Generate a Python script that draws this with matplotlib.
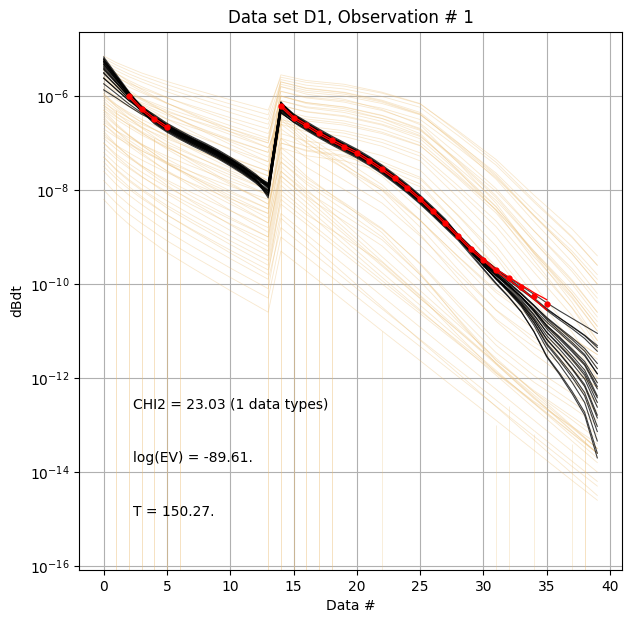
import numpy as np
import matplotlib
matplotlib.use('Agg')
import matplotlib.pyplot as plt
from matplotlib.ticker import NullLocator

nan = np.nan

# data number (gate index)
data_no = np.arange(40)

# observed data, log10(dBdt); nan where not observed
obs_log = [nan, nan, -6.00, -6.28, -6.49, -6.67, nan, nan, nan, nan,
           nan, nan, nan, nan, -6.21, -6.46, -6.62, -6.79, -6.94, -7.08,
           -7.21, -7.38, -7.56, -7.75, -7.96, -8.19, -8.45, -8.71, -8.98, -9.25,
           -9.48, -9.71, -9.88, -10.06, -10.25, -10.43, nan, nan, nan, nan]
# relative std of the observed data
obs_std = [.05, .05, .05, .05, .05, .05, .05, .05, .05, .05,
           .05, .05, .05, .05, .05, .05, .05, .05, .05, .05,
           .05, .05, .05, .05, .05, .05, .05, .05, .05, .05,
           .05, .05, .07, .10, .16, .25, .05, .05, .05, .05]

y_ticks = [1e-16, 1e-14, 1e-12, 1e-10, 1e-8, 1e-6]

# prior realisations, log10(dBdt) at these data numbers
prior_x = [0, 1, 2, 3, 5, 7, 10, 13, 14, 16, 19, 22, 25, 28, 31, 34, 37, 39]
prior_log = [
    [-5.15, -5.29, -5.40, -5.51, -5.69, -5.85, -6.08, -6.30, -5.60, -5.71, -5.79, -5.94, -6.17, -6.74, -7.35, -8.11, -8.83, -9.40],
    [-5.30, -5.46, -5.59, -5.70, -5.91, -6.09, -6.35, -6.60, -5.80, -5.92, -6.00, -6.16, -6.40, -7.00, -7.64, -8.44, -9.20, -9.80],
    [-5.50, -5.67, -5.81, -5.93, -6.16, -6.35, -6.63, -6.90, -5.70, -5.84, -5.93, -6.11, -6.38, -7.05, -7.77, -8.67, -9.53, -10.20],
    [-5.40, -5.59, -5.75, -5.90, -6.15, -6.38, -6.70, -7.00, -6.00, -6.14, -6.23, -6.41, -6.69, -7.38, -8.12, -9.04, -9.91, -10.60],
    [-5.70, -5.88, -6.03, -6.17, -6.41, -6.62, -6.92, -7.20, -6.10, -6.25, -6.35, -6.54, -6.84, -7.57, -8.35, -9.33, -10.27, -11.00],
    [-5.60, -5.83, -6.02, -6.19, -6.49, -6.76, -7.14, -7.50, -6.30, -6.72, -7.20, -7.71, -8.42, -9.23, -10.02, -10.62, -11.14, -11.50],
    [-5.90, -6.08, -6.23, -6.37, -6.61, -6.82, -7.12, -7.40, -5.90, -6.04, -6.13, -6.31, -6.58, -7.25, -7.97, -8.87, -9.73, -10.40],
    [-6.00, -6.22, -6.40, -6.56, -6.85, -7.10, -7.46, -7.80, -6.60, -6.76, -6.86, -7.07, -7.38, -8.16, -8.99, -10.03, -11.02, -11.80],
    [-6.20, -6.43, -6.62, -6.79, -7.09, -7.36, -7.74, -8.10, -6.50, -6.98, -7.54, -8.13, -8.94, -9.88, -10.79, -11.49, -12.08, -12.50],
    [-5.80, -6.03, -6.22, -6.39, -6.69, -6.96, -7.34, -7.70, -5.80, -5.96, -6.07, -6.29, -6.61, -7.42, -8.28, -9.36, -10.39, -11.20],
    [-6.40, -6.64, -6.84, -7.02, -7.34, -7.62, -8.02, -8.40, -7.00, -7.17, -7.29, -7.52, -7.87, -8.74, -9.67, -10.83, -11.93, -12.80],
    [-6.60, -6.85, -7.06, -7.25, -7.59, -7.88, -8.30, -8.70, -7.20, -7.70, -8.30, -8.91, -9.76, -10.75, -11.70, -12.44, -13.06, -13.50],
    [-6.30, -6.50, -6.67, -6.83, -7.10, -7.34, -7.68, -8.00, -6.20, -6.34, -6.44, -6.62, -6.91, -7.61, -8.36, -9.30, -10.20, -10.90],
    [-6.80, -7.06, -7.28, -7.48, -7.83, -8.14, -8.58, -9.00, -7.60, -8.08, -8.80, -9.52, -10.24, -10.96, -11.68, -12.40, -13.12, -13.60],
    [-7.00, -7.28, -7.51, -7.71, -8.08, -8.40, -8.86, -9.30, -7.90, -8.36, -9.06, -9.76, -10.45, -11.15, -11.84, -12.54, -13.24, -13.70],
    [-6.50, -6.74, -6.94, -7.12, -7.44, -7.72, -8.12, -8.50, -6.80, -6.96, -7.06, -7.27, -7.58, -8.36, -9.19, -10.23, -11.22, -12.00],
    [-7.30, -7.58, -7.81, -8.01, -8.38, -8.70, -9.16, -9.60, -8.30, -8.72, -9.36, -10.00, -10.63, -11.27, -11.90, -12.54, -13.18, -13.60],
    [-7.60, -7.88, -8.11, -8.31, -8.68, -9.00, -9.46, -9.90, -8.80, -9.23, -9.88, -10.53, -11.18, -11.82, -12.47, -13.12, -13.77, -14.20],
    [-8.20, -8.49, -8.73, -8.94, -9.33, -9.66, -10.14, -10.60, -9.30, -9.72, -10.36, -11.00, -11.63, -12.27, -12.90, -13.54, -14.18, -14.60],
    [-5.45, -5.60, -5.73, -5.84, -6.04, -6.21, -6.46, -6.70, -5.90, -6.02, -6.10, -6.26, -6.50, -7.10, -7.74, -8.54, -9.30, -9.90],
    [-6.10, -6.36, -6.58, -6.78, -7.13, -7.44, -7.88, -8.30, -7.10, -7.51, -7.99, -8.48, -9.18, -9.98, -10.75, -11.34, -11.84, -12.20],
    [-6.90, -7.13, -7.32, -7.49, -7.79, -8.06, -8.44, -8.80, -7.40, -7.87, -8.43, -9.00, -9.80, -10.73, -11.62, -12.30, -12.89, -13.30],
    [-5.60, -5.78, -5.93, -6.07, -6.31, -6.52, -6.82, -7.10, -6.40, -6.53, -6.62, -6.80, -7.06, -7.72, -8.42, -9.30, -10.14, -10.80],
    [-7.10, -7.34, -7.54, -7.72, -8.04, -8.32, -8.72, -9.10, -7.70, -8.17, -8.88, -9.59, -10.30, -11.00, -11.71, -12.42, -13.13, -13.60],
    [-6.00, -6.19, -6.35, -6.50, -6.75, -6.98, -7.30, -7.60, -6.00, -6.16, -6.27, -6.48, -6.80, -7.59, -8.44, -9.50, -10.51, -11.30],
    [-7.80, -8.08, -8.31, -8.51, -8.88, -9.20, -9.66, -10.10, -8.60, -9.07, -9.78, -10.49, -11.20, -11.90, -12.61, -13.32, -14.03, -14.50],
    [-6.70, -6.88, -7.03, -7.17, -7.41, -7.62, -7.92, -8.20, -6.90, -7.07, -7.18, -7.40, -7.73, -8.55, -9.43, -10.53, -11.58, -12.40],
    [-5.25, -5.40, -5.53, -5.64, -5.84, -6.01, -6.26, -6.50, -5.70, -5.83, -5.92, -6.09, -6.35, -6.99, -7.68, -8.54, -9.36, -10.00],
    [-7.40, -7.69, -7.93, -8.14, -8.53, -8.86, -9.34, -9.80, -8.10, -8.52, -9.02, -9.54, -10.26, -11.09, -11.89, -12.50, -13.03, -13.40],
    [-6.25, -6.45, -6.61, -6.76, -7.03, -7.26, -7.59, -7.90, -6.60, -7.00, -7.47, -7.96, -8.64, -9.42, -10.18, -10.76, -11.25, -11.60],
    [-5.35, -5.52, -5.67, -5.80, -6.03, -6.24, -6.53, -6.80, -6.10, -6.23, -6.31, -6.48, -6.73, -7.36, -8.03, -8.87, -9.67, -10.30],
    [-5.55, -5.76, -5.94, -6.09, -6.37, -6.62, -6.97, -7.30, -6.30, -6.44, -6.53, -6.71, -6.99, -7.68, -8.42, -9.34, -10.21, -10.90],
    [-5.75, -5.90, -6.03, -6.14, -6.34, -6.51, -6.76, -7.00, -5.75, -5.88, -5.96, -6.13, -6.39, -7.03, -7.71, -8.56, -9.36, -10.00],
    [-5.95, -6.18, -6.38, -6.56, -6.87, -7.14, -7.53, -7.90, -6.70, -7.08, -7.54, -8.00, -8.65, -9.41, -10.13, -10.69, -11.16, -11.50],
    [-6.15, -6.32, -6.47, -6.60, -6.83, -7.03, -7.32, -7.60, -6.35, -6.49, -6.58, -6.77, -7.05, -7.75, -8.49, -9.42, -10.30, -11.00],
    [-5.50, -5.78, -6.01, -6.21, -6.58, -6.90, -7.36, -7.80, -6.90, -7.31, -7.79, -8.28, -8.98, -9.78, -10.55, -11.14, -11.64, -12.00],
    [-6.35, -6.62, -6.85, -7.05, -7.41, -7.72, -8.17, -8.60, -7.30, -7.75, -8.27, -8.82, -9.58, -10.46, -11.30, -11.95, -12.51, -12.90],
    [-6.55, -6.74, -6.89, -7.03, -7.28, -7.50, -7.81, -8.10, -6.55, -6.70, -6.79, -6.99, -7.28, -8.01, -8.78, -9.75, -10.67, -11.40],
    [-6.75, -7.04, -7.29, -7.51, -7.90, -8.25, -8.74, -9.20, -7.80, -8.26, -8.94, -9.62, -10.31, -10.99, -11.68, -12.36, -13.04, -13.50],
    [-5.85, -6.01, -6.15, -6.27, -6.49, -6.67, -6.94, -7.20, -6.20, -6.33, -6.42, -6.60, -6.86, -7.52, -8.22, -9.10, -9.94, -10.60],
    [-7.20, -7.46, -7.68, -7.88, -8.23, -8.54, -8.98, -9.40, -8.00, -8.46, -9.16, -9.86, -10.55, -11.25, -11.94, -12.64, -13.34, -13.80],
    [-6.05, -6.28, -6.48, -6.65, -6.97, -7.24, -7.63, -8.00, -6.45, -6.91, -7.45, -8.01, -8.79, -9.69, -10.56, -11.23, -11.80, -12.20],
    [-5.65, -5.81, -5.94, -6.05, -6.26, -6.44, -6.70, -6.95, -5.65, -5.77, -5.85, -6.01, -6.24, -6.84, -7.47, -8.26, -9.01, -9.60],
    [-6.45, -6.74, -6.99, -7.21, -7.60, -7.94, -8.43, -8.90, -7.70, -8.14, -8.66, -9.19, -9.94, -10.80, -11.63, -12.27, -12.82, -13.20],
    [-7.50, -7.76, -7.98, -8.18, -8.53, -8.84, -9.28, -9.70, -8.50, -8.94, -9.60, -10.26, -10.92, -11.58, -12.24, -12.90, -13.56, -14.00],
    [-5.30, -5.52, -5.70, -5.86, -6.15, -6.40, -6.76, -7.10, -6.50, -6.64, -6.74, -6.92, -7.21, -7.91, -8.66, -9.60, -10.50, -11.20],
    [-6.85, -7.05, -7.21, -7.36, -7.63, -7.86, -8.19, -8.50, -7.10, -7.27, -7.38, -7.60, -7.93, -8.75, -9.63, -10.73, -11.78, -12.60],
    [-7.00, -7.24, -7.44, -7.62, -7.94, -8.22, -8.62, -9.00, -7.50, -7.98, -8.70, -9.42, -10.14, -10.86, -11.58, -12.30, -13.02, -13.50],
    [-6.20, -6.38, -6.53, -6.67, -6.91, -7.12, -7.42, -7.70, -6.00, -6.14, -6.24, -6.42, -6.71, -7.41, -8.16, -9.10, -10.00, -10.70],
    [-5.95, -6.23, -6.47, -6.68, -7.06, -7.38, -7.85, -8.30, -7.40, -7.82, -8.32, -8.84, -9.56, -10.39, -11.19, -11.80, -12.33, -12.70],
    [-8.00, -8.28, -8.51, -8.71, -9.08, -9.40, -9.86, -10.30, -9.00, -9.42, -10.06, -10.70, -11.33, -11.97, -12.60, -13.24, -13.88, -14.30],
    [-5.45, -5.68, -5.88, -6.05, -6.37, -6.64, -7.03, -7.40, -6.40, -6.84, -7.36, -7.89, -8.64, -9.50, -10.33, -10.97, -11.52, -11.90],
    [-6.60, -6.82, -7.00, -7.16, -7.45, -7.70, -8.06, -8.40, -7.00, -7.15, -7.26, -7.46, -7.77, -8.53, -9.35, -10.37, -11.34, -12.10],
    [-7.30, -7.56, -7.78, -7.98, -8.33, -8.64, -9.08, -9.50, -8.20, -8.63, -9.28, -9.93, -10.58, -11.22, -11.87, -12.52, -13.17, -13.60],
    [-5.20, -5.34, -5.46, -5.57, -5.76, -5.93, -6.17, -6.40, -5.55, -5.67, -5.75, -5.92, -6.16, -6.77, -7.41, -8.22, -8.99, -9.60],
    [-6.30, -6.59, -6.83, -7.04, -7.43, -7.76, -8.24, -8.70, -7.60, -8.03, -8.54, -9.06, -9.80, -10.65, -11.46, -12.09, -12.62, -13.00],
]

# prior realisations with non-positive values: data number, last positive level, count
drop_x = [1, 2, 3, 4, 5, 6, 13, 14, 15, 16, 17, 18, 22, 31, 32, 34, 37, 38]
drop_top = [-6.3, -6.6, -6.4, -6.9, -6.5, -7.0, -7.5, -6.2, -6.6, -6.8, -7.0, -7.3,
            -11.0, -13.0, -12.6, -13.2, -13.4, -13.3]
drop_n = [2, 2, 2, 2, 2, 2, 2, 2, 2, 2, 2, 2, 1, 1, 1, 1, 1, 2]

# posterior realisations, log10(dBdt) at all 40 data numbers
post_log = [
    [-5.20, -5.57, -5.93, -6.24, -6.46, -6.65, -6.80, -6.94, -7.07, -7.21, -7.37, -7.53, -7.72, -7.90,
     -6.18, -6.43, -6.61, -6.78, -6.93, -7.07, -7.21, -7.37, -7.55, -7.75, -7.96, -8.19, -8.44, -8.70,
     -8.96, -9.22, -9.46, -9.67, -9.86, -10.04, -10.22, -10.40, -10.57, -10.73, -10.89, -11.05],
    [-5.27, -5.62, -6.00, -6.29, -6.51, -6.69, -6.84, -6.98, -7.11, -7.25, -7.41, -7.58, -7.78, -8.00,
     -6.27, -6.48, -6.65, -6.81, -6.96, -7.10, -7.24, -7.40, -7.58, -7.78, -7.99, -8.22, -8.47, -8.73,
     -8.99, -9.26, -9.50, -9.73, -9.93, -10.13, -10.33, -10.54, -10.72, -10.90, -11.09, -11.31],
    [-5.32, -5.65, -5.98, -6.24, -6.45, -6.63, -6.78, -6.92, -7.05, -7.19, -7.35, -7.52, -7.71, -7.92,
     -6.16, -6.41, -6.59, -6.75, -6.90, -7.04, -7.18, -7.34, -7.52, -7.72, -7.93, -8.16, -8.41, -8.67,
     -8.94, -9.21, -9.46, -9.69, -9.90, -10.11, -10.32, -10.56, -10.76, -10.95, -11.16, -11.43],
    [-5.37, -5.69, -6.01, -6.31, -6.53, -6.71, -6.86, -7.00, -7.13, -7.27, -7.43, -7.60, -7.79, -8.05,
     -6.30, -6.50, -6.67, -6.83, -6.98, -7.12, -7.26, -7.42, -7.60, -7.80, -8.01, -8.24, -8.49, -8.75,
     -9.02, -9.29, -9.55, -9.79, -10.00, -10.22, -10.46, -10.71, -10.93, -11.14, -11.37, -11.69],
    [-5.24, -5.59, -5.94, -6.26, -6.48, -6.66, -6.81, -6.95, -7.08, -7.22, -7.38, -7.55, -7.74, -7.87,
     -6.14, -6.42, -6.62, -6.78, -6.93, -7.07, -7.21, -7.37, -7.55, -7.75, -7.96, -8.19, -8.44, -8.70,
     -8.97, -9.25, -9.51, -9.76, -9.97, -10.20, -10.45, -10.73, -10.95, -11.18, -11.43, -11.80],
    [-5.44, -5.73, -6.01, -6.27, -6.44, -6.62, -6.77, -6.91, -7.04, -7.18, -7.34, -7.51, -7.70, -7.95,
     -6.24, -6.42, -6.58, -6.74, -6.89, -7.03, -7.17, -7.33, -7.51, -7.71, -7.92, -8.15, -8.40, -8.67,
     -8.96, -9.23, -9.50, -9.75, -9.97, -10.21, -10.47, -10.76, -11.00, -11.24, -11.50, -11.91],
    [-5.17, -5.54, -5.91, -6.25, -6.54, -6.72, -6.87, -7.01, -7.14, -7.28, -7.44, -7.61, -7.80, -7.90,
     -6.12, -6.44, -6.68, -6.84, -6.99, -7.13, -7.27, -7.43, -7.61, -7.81, -8.02, -8.25, -8.50, -8.76,
     -9.02, -9.30, -9.57, -9.82, -10.05, -10.29, -10.57, -10.88, -11.12, -11.38, -11.65, -12.10],
    [-5.52, -5.79, -6.07, -6.32, -6.49, -6.67, -6.82, -6.96, -7.09, -7.23, -7.40, -7.58, -7.79, -8.12,
     -6.34, -6.50, -6.61, -6.77, -6.92, -7.06, -7.20, -7.36, -7.54, -7.74, -7.95, -8.18, -8.43, -8.69,
     -8.97, -9.25, -9.53, -9.79, -10.02, -10.27, -10.55, -10.88, -11.14, -11.41, -11.70, -12.18],
    [-5.29, -5.63, -5.99, -6.31, -6.56, -6.74, -6.89, -7.03, -7.16, -7.30, -7.46, -7.63, -7.82, -8.02,
     -6.36, -6.54, -6.70, -6.86, -7.01, -7.15, -7.29, -7.45, -7.63, -7.83, -8.04, -8.27, -8.52, -8.78,
     -9.04, -9.32, -9.60, -9.87, -10.11, -10.36, -10.67, -11.02, -11.29, -11.58, -11.89, -12.42],
    [-5.62, -5.86, -6.10, -6.30, -6.46, -6.64, -6.79, -6.93, -7.06, -7.20, -7.36, -7.53, -7.72, -7.92,
     -6.20, -6.43, -6.60, -6.76, -6.91, -7.05, -7.19, -7.35, -7.53, -7.73, -7.94, -8.17, -8.42, -8.68,
     -8.98, -9.27, -9.55, -9.82, -10.07, -10.33, -10.65, -11.03, -11.31, -11.61, -11.94, -12.52],
    [-5.22, -5.58, -5.94, -6.27, -6.51, -6.69, -6.84, -6.98, -7.11, -7.25, -7.41, -7.58, -7.77, -8.07,
     -6.18, -6.45, -6.65, -6.81, -6.96, -7.10, -7.24, -7.40, -7.58, -7.78, -7.99, -8.22, -8.47, -8.73,
     -9.02, -9.32, -9.61, -9.89, -10.14, -10.42, -10.76, -11.17, -11.47, -11.79, -12.14, -12.79],
    [-5.74, -5.95, -6.17, -6.36, -6.49, -6.67, -6.82, -6.96, -7.09, -7.23, -7.39, -7.56, -7.75, -8.17,
     -6.28, -6.47, -6.63, -6.79, -6.94, -7.08, -7.22, -7.38, -7.56, -7.76, -7.97, -8.20, -8.45, -8.71,
     -9.01, -9.31, -9.61, -9.89, -10.16, -10.45, -10.81, -11.26, -11.58, -11.92, -12.31, -13.03],
    [-5.34, -5.66, -5.98, -6.24, -6.44, -6.62, -6.77, -6.91, -7.04, -7.18, -7.34, -7.51, -7.70, -7.89,
     -6.14, -6.40, -6.58, -6.74, -6.89, -7.03, -7.17, -7.33, -7.51, -7.71, -7.92, -8.15, -8.40, -8.66,
     -8.98, -9.29, -9.60, -9.90, -10.18, -10.48, -10.88, -11.37, -11.71, -12.09, -12.52, -13.34],
    [-5.87, -6.04, -6.22, -6.39, -6.52, -6.70, -6.85, -6.99, -7.12, -7.26, -7.42, -7.59, -7.78, -8.09,
     -6.32, -6.49, -6.66, -6.82, -6.97, -7.11, -7.25, -7.41, -7.59, -7.79, -8.00, -8.23, -8.48, -8.74,
     -9.04, -9.35, -9.67, -9.98, -10.27, -10.59, -11.02, -11.55, -11.92, -12.33, -12.79, -13.70],
    [-5.26, -5.60, -5.93, -6.21, -6.42, -6.60, -6.75, -6.89, -7.02, -7.16, -7.32, -7.49, -7.68, -7.87,
     -6.15, -6.39, -6.56, -6.72, -6.87, -7.01, -7.15, -7.31, -7.49, -7.69, -7.90, -8.13, -8.38, -8.64,
     -8.94, -9.20, -9.45, -9.68, -9.88, -10.09, -10.30, -10.52, -10.72, -10.91, -11.10, -11.35],
    [-5.40, -5.71, -6.02, -6.34, -6.57, -6.75, -6.90, -7.04, -7.17, -7.31, -7.47, -7.64, -7.83, -8.12,
     -6.36, -6.55, -6.71, -6.87, -7.02, -7.16, -7.30, -7.46, -7.64, -7.84, -8.05, -8.28, -8.53, -8.79,
     -9.04, -9.31, -9.57, -9.82, -10.04, -10.27, -10.53, -10.81, -11.04, -11.28, -11.53, -11.91],
    [-5.32, -5.65, -5.97, -6.25, -6.46, -6.64, -6.79, -6.93, -7.06, -7.20, -7.36, -7.53, -7.72, -7.97,
     -6.22, -6.44, -6.60, -6.76, -6.91, -7.05, -7.19, -7.35, -7.53, -7.73, -7.94, -8.17, -8.42, -8.68,
     -8.97, -9.26, -9.53, -9.79, -10.03, -10.28, -10.57, -10.91, -11.17, -11.44, -11.73, -12.23],
    [-5.50, -5.78, -6.06, -6.33, -6.54, -6.72, -6.87, -7.01, -7.14, -7.28, -7.44, -7.61, -7.80, -8.02,
     -6.29, -6.51, -6.68, -6.84, -6.99, -7.13, -7.27, -7.43, -7.61, -7.81, -8.02, -8.25, -8.50, -8.76,
     -9.03, -9.32, -9.60, -9.88, -10.13, -10.39, -10.72, -11.10, -11.38, -11.69, -12.02, -12.62],
    [-5.22, -5.58, -5.94, -6.25, -6.49, -6.67, -6.82, -6.96, -7.09, -7.23, -7.39, -7.56, -7.75, -7.94,
     -6.26, -6.46, -6.63, -6.79, -6.94, -7.08, -7.22, -7.38, -7.56, -7.76, -7.97, -8.20, -8.45, -8.71,
     -9.00, -9.30, -9.59, -9.87, -10.13, -10.41, -10.76, -11.18, -11.48, -11.81, -12.18, -12.85],
    [-5.62, -5.86, -6.10, -6.27, -6.44, -6.62, -6.77, -6.91, -7.04, -7.18, -7.34, -7.51, -7.70, -7.85,
     -6.19, -6.41, -6.58, -6.74, -6.89, -7.03, -7.17, -7.33, -7.51, -7.71, -7.92, -8.15, -8.40, -8.66,
     -8.99, -9.29, -9.59, -9.89, -10.16, -10.45, -10.83, -11.29, -11.62, -11.98, -12.38, -13.14],
    [-5.27, -5.62, -5.97, -6.33, -6.59, -6.77, -6.92, -7.06, -7.19, -7.33, -7.49, -7.66, -7.85, -8.07,
     -6.34, -6.56, -6.73, -6.89, -7.04, -7.18, -7.32, -7.48, -7.66, -7.86, -8.07, -8.30, -8.55, -8.81,
     -9.07, -9.38, -9.69, -10.00, -10.28, -10.60, -11.01, -11.53, -11.89, -12.28, -12.73, -13.60],
    [-5.42, -5.72, -6.02, -6.23, -6.40, -6.58, -6.73, -6.87, -7.00, -7.14, -7.30, -7.47, -7.66, -7.91,
     -6.14, -6.38, -6.54, -6.70, -6.85, -6.99, -7.13, -7.29, -7.47, -7.67, -7.88, -8.11, -8.36, -8.62,
     -8.95, -9.23, -9.51, -9.78, -10.02, -10.28, -10.59, -10.95, -11.23, -11.52, -11.83, -12.38],
]

prior_col = (0.92, 0.74, 0.45)

fig, ax = plt.subplots(1, 1, figsize=(6.31, 6.23))
fig.subplots_adjust(left=0.1252, right=0.9857, bottom=0.0851, top=0.9491)

for p in prior_log:
    ax.semilogy(prior_x, 10.0**np.array(p), color=prior_col, alpha=0.35, linewidth=0.6)
for xd, td, nd in zip(drop_x, drop_top, drop_n):
    ax.vlines(xd, 1e-20, 10.0**td, color=prior_col, alpha=1 - 0.7**nd, linewidth=0.6)

for p in post_log:
    ax.semilogy(data_no, 10.0**np.array(p), 'k-', linewidth=0.8, alpha=0.75)

d_obs = 10.0**np.array(obs_log)
d_std = d_obs * np.array(obs_std)
ax.semilogy(data_no, d_obs + d_std, 'r-', linewidth=0.9)
ax.semilogy(data_no, d_obs - d_std, 'r-', linewidth=0.9)
ax.semilogy(data_no, d_obs, 'r.', markersize=7)

ax.text(0.1, 0.3, 'CHI2 = 23.03 (1 data types)', transform=ax.transAxes)
ax.text(0.1, 0.2, 'log(EV) = -89.61.', transform=ax.transAxes)
ax.text(0.1, 0.1, 'T = 150.27.', transform=ax.transAxes)

ax.set_xlim(-1.95, 40.95)
ax.set_ylim(10**-16.085, 10**-4.632)
ax.set_yticks(y_ticks)
ax.yaxis.set_minor_locator(NullLocator())
ax.set_xlabel('Data #')
ax.set_ylabel('dBdt')
ax.set_title('Data set D1, Observation # 1')
ax.grid(True)

fig.savefig('out.png', dpi=100)
